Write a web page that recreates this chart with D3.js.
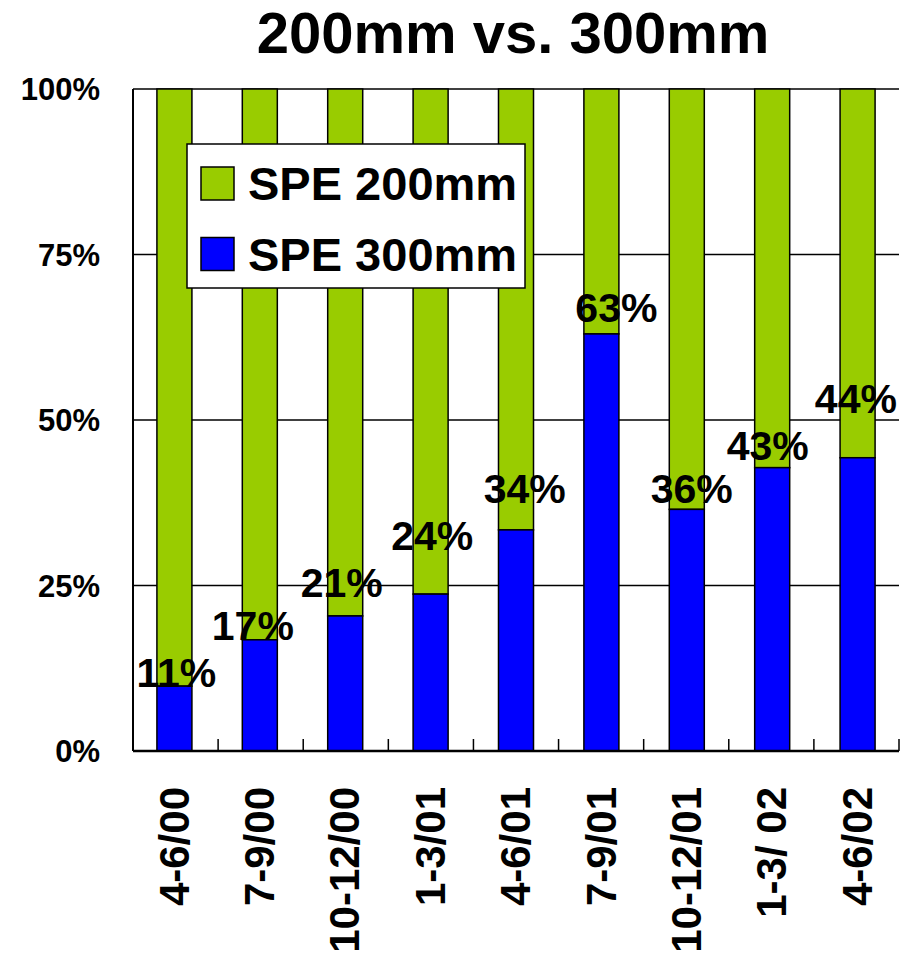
<!DOCTYPE html>
<html>
<head>
<meta charset="utf-8">
<script src="https://cdn.jsdelivr.net/npm/d3@7"></script>
<style>
  body { margin: 0; background: #fff; }
  text { font-family: "Liberation Sans", Arial, sans-serif; font-weight: bold; }
</style>
</head>
<body>
<script>
// quarters and share of 300mm (in %)
const quarters = ["4-6/00", "7-9/00", "10-12/00", "1-3/01", "4-6/01", "7-9/01", "10-12/01", "1-3/ 02", "4-6/02"];
const share300 = [9.8, 16.8, 20.4, 23.7, 33.4, 63, 36.5, 42.8, 44.3];
const labels = ["11%", "17%", "21%", "24%", "34%", "63%", "36%", "43%", "44%"];
// where the label baseline sits, in % units
const labelAt = [9.7, 16.7, 23.3, 30.4, 37.5, 64.8, 37.5, 44, 51.1];
const yTicks = [0, 25, 50, 75, 100];
const series = ["SPE 200mm", "SPE 300mm"];

const labelShift = [2, -7, -3.5, 1.7, 8.7, 15, 5, -4.5, -1.7];

const width = 901, height = 953;
const margin = {top: 89, right: 2, bottom: 202, left: 133};

const green = "#99cc00", blue = "#0000ff";

const svg = d3.select("body").append("svg")
    .attr("width", width)
    .attr("height", height);

const x = d3.scaleBand()
    .domain(quarters)
    .range([margin.left, width - margin.right])
    .paddingInner(0.59)
    .paddingOuter(0.28);

const y = d3.scaleLinear()
    .domain([0, 100])
    .range([height - margin.bottom, margin.top]);

// title
svg.append("text")
    .attr("x", 513)
    .attr("y", 53)
    .attr("text-anchor", "middle")
    .attr("font-size", 58)
    .text("200mm vs. 300mm");

// gridlines
svg.append("g")
  .selectAll("line")
  .data(yTicks.slice(1))
  .join("line")
    .attr("x1", margin.left)
    .attr("x2", width - margin.right)
    .attr("y1", d => y(d))
    .attr("y2", d => y(d))
    .attr("stroke", "#000")
    .attr("stroke-width", 1.5);

// y axis labels
svg.append("g")
  .selectAll("text")
  .data(yTicks)
  .join("text")
    .attr("x", 100)
    .attr("y", d => y(d))
    .attr("dy", "0.36em")
    .attr("text-anchor", "end")
    .attr("font-size", 31)
    .text(d => d + "%");

// stacked bars
const bars = svg.append("g")
  .selectAll("g")
  .data(quarters.map((q, i) => ({q, v: share300[i]})))
  .join("g");

bars.append("rect")
    .attr("x", d => x(d.q))
    .attr("width", x.bandwidth())
    .attr("y", y(100))
    .attr("height", d => y(d.v) - y(100))
    .attr("fill", green)
    .attr("stroke", "#000")
    .attr("stroke-width", 1.5);

bars.append("rect")
    .attr("x", d => x(d.q))
    .attr("width", x.bandwidth())
    .attr("y", d => y(d.v))
    .attr("height", d => y(0) - y(d.v))
    .attr("fill", blue)
    .attr("stroke", "#000")
    .attr("stroke-width", 1.5);

// axes lines and ticks
const edges = d3.range(1, quarters.length + 1).map(i => margin.left + (width - margin.right - margin.left) * i / quarters.length);

svg.append("g")
  .selectAll("line")
  .data(edges)
  .join("line")
    .attr("x1", d => d)
    .attr("x2", d => d)
    .attr("y1", y(0))
    .attr("y2", y(0) - 12)
    .attr("stroke", "#000")
    .attr("stroke-width", 1.5);

svg.append("line")
    .attr("x1", margin.left)
    .attr("x2", margin.left + 10)
    .attr("y1", y(0))
    .attr("y2", y(0))
    .attr("stroke", "#000")
    .attr("stroke-width", 1.5);

svg.append("line")
    .attr("x1", margin.left)
    .attr("x2", width - margin.right)
    .attr("y1", y(0))
    .attr("y2", y(0))
    .attr("stroke", "#000")
    .attr("stroke-width", 2.5);

svg.append("line")
    .attr("x1", margin.left)
    .attr("x2", margin.left)
    .attr("y1", y(0))
    .attr("y2", y(100))
    .attr("stroke", "#000")
    .attr("stroke-width", 2);

// value labels
svg.append("g")
  .selectAll("text")
  .data(labels)
  .join("text")
    .attr("x", (d, i) => x(quarters[i]) + x.bandwidth() / 2 + labelShift[i])
    .attr("y", (d, i) => y(labelAt[i]))
    .attr("text-anchor", "middle")
    .attr("font-size", 41)
    .text(d => d);

// category labels, rotated
svg.append("g")
  .selectAll("text")
  .data(quarters)
  .join("text")
    .attr("transform", d => `translate(${x(d) + x.bandwidth() / 2 - 1},787) rotate(-90)`)
    .attr("dy", "0.36em")
    .attr("text-anchor", "end")
    .attr("font-size", 42)
    .text(d => d);

// legend
const legend = svg.append("g");
legend.append("rect")
    .attr("x", 187)
    .attr("y", 144)
    .attr("width", 338)
    .attr("height", 144)
    .attr("fill", "#fff")
    .attr("stroke", "#000")
    .attr("stroke-width", 1.5);

legend.selectAll("g")
  .data(series)
  .join("g")
    .attr("transform", (d, i) => `translate(201,${167 + i * 70.5})`)
    .call(g => g.append("rect")
        .attr("width", 33)
        .attr("height", 33)
        .attr("fill", (d, i) => i === 0 ? green : blue)
        .attr("stroke", "#000")
        .attr("stroke-width", 1.5))
    .call(g => g.append("text")
        .attr("x", 47)
        .attr("y", 33)
        .attr("font-size", 47)
        .text(d => d));
</script>
</body>
</html>
